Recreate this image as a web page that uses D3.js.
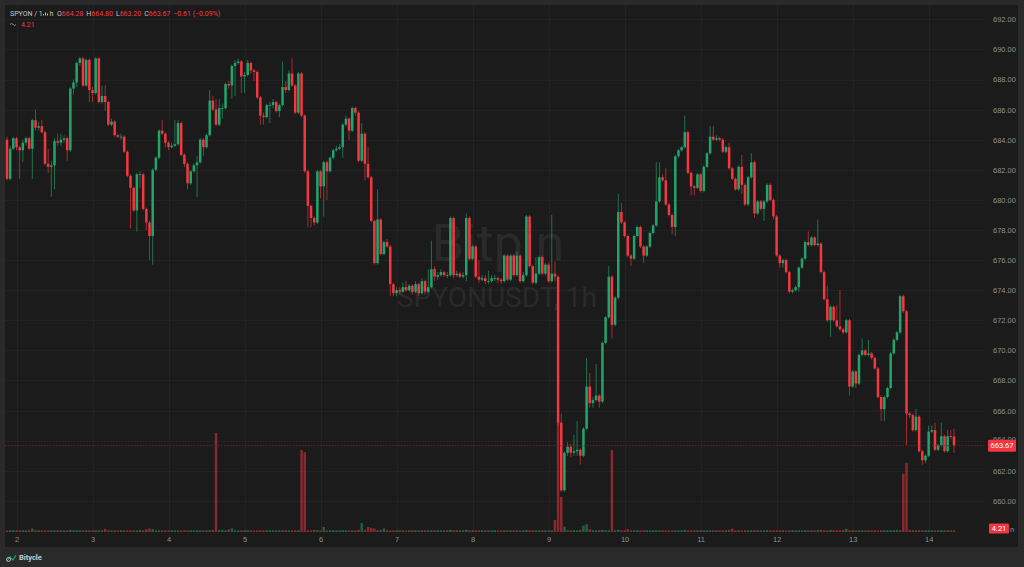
<!DOCTYPE html>
<html lang="en">
<head>
<meta charset="UTF-8">
<title>SPYONUSDT 1h</title>
<script src="https://cdn.jsdelivr.net/npm/d3@7"></script>
<style>
  body { margin: 0; background: #2a2a2a; }
  svg { display: block; font-family: Roboto, "Open Sans", sans-serif; }
  .axis text { fill: #8e8e8e; font-size: 7.5px; }
</style>
</head>
<body>
<svg id="chart" width="1024" height="567"></svg>
<script>
// hourly candles, day 1 21:00 -> day 14 09:00
const opens = [
  684.0, 681.4, 683.4, 684.1, 683.5, 683.3, 683.8, 684.1, 683.4, 685.3, 684.8, 684.9,
  684.5, 682.4, 682.2, 682.3, 683.9, 683.8, 684.0, 684.1, 683.3, 687.4, 687.8, 689.1,
  689.4, 687.6, 689.3, 687.3, 687.1, 689.4, 686.5, 686.9, 686.5, 685.0, 685.2, 684.3,
  684.2, 684.2, 683.2, 681.6, 680.8, 679.3, 681.7, 681.7, 679.4, 678.5, 677.6, 682.0,
  682.8, 684.6, 684.4, 683.8, 683.5, 683.6, 683.7, 685.1, 683.0, 682.4, 681.1, 681.9,
  682.3, 682.5, 684.0, 683.5, 684.3, 686.6, 686.0, 685.0, 686.1, 686.1, 687.7, 687.6,
  688.9, 689.1, 689.2, 688.2, 688.3, 689.1, 688.6, 688.5, 686.8, 685.6, 685.5, 686.3,
  686.3, 686.5, 685.9, 686.3, 687.5, 687.3, 688.4, 687.6, 685.8, 688.4, 685.6, 681.9,
  679.6, 678.8, 678.5, 681.9, 680.9, 682.5, 681.9, 682.8, 683.3, 683.4, 683.5, 685.0,
  685.4, 684.6, 686.1, 685.8, 682.6, 684.4, 682.4, 681.5, 678.6, 675.8, 678.7, 676.4,
  677.2, 676.9, 674.4, 673.8, 674.0, 673.9, 674.2, 674.0, 674.3, 673.9, 674.4, 673.8,
  674.6, 673.9, 674.2, 675.4, 674.9, 675.0, 675.2, 675.0, 675.0, 678.8, 675.0, 675.1,
  674.9, 675.0, 678.8, 676.1, 676.9, 674.9, 674.7, 674.8, 674.6, 674.6, 674.8, 674.8,
  674.7, 674.6, 676.3, 674.7, 676.3, 675.0, 676.3, 674.6, 675.0, 678.9, 675.6, 674.5,
  675.1, 676.2, 675.1, 675.7, 674.6, 675.1, 674.9, 665.2, 660.7, 663.2, 663.6, 663.2,
  663.3, 663.4, 663.0, 664.8, 667.6, 666.5, 666.7, 667.0, 666.6, 670.5, 672.2, 674.9,
  671.7, 673.5, 679.2, 678.5, 677.6, 676.3, 676.1, 677.6, 678.2, 676.9, 676.3, 676.9,
  677.8, 678.3, 679.9, 681.5, 681.3, 679.7, 679.0, 678.2, 682.9, 683.3, 683.5, 684.5,
  681.8, 680.9, 680.8, 681.7, 680.6, 682.2, 683.1, 684.2, 684.0, 684.1, 684.0, 683.2,
  683.5, 682.1, 681.4, 680.7, 682.2, 681.0, 679.7, 681.5, 682.5, 679.1, 679.9, 679.4,
  679.9, 681.0, 680.0, 678.9, 676.3, 675.8, 676.0, 675.2, 673.9, 674.0, 674.2, 675.5,
  676.1, 677.2, 677.0, 677.5, 677.0, 677.1, 675.2, 673.4, 672.0, 672.9, 672.0, 671.6,
  671.4, 671.2, 672.0, 667.6, 668.6, 667.8, 669.7, 670.0, 669.7, 669.8, 669.5, 668.8,
  666.9, 666.1, 666.9, 667.5, 669.8, 670.7, 671.2, 673.6, 672.6, 665.8, 665.7, 664.7,
  665.6, 663.3, 662.7, 663.0, 664.6, 664.7, 663.4, 663.7, 664.3, 663.3, 664.3, 664.28
];
const closes = [
  681.4, 683.4, 684.1, 683.5, 683.3, 683.8, 684.1, 683.4, 685.3, 684.8, 684.9, 684.5,
  682.4, 682.2, 682.3, 683.9, 683.8, 684.0, 684.1, 683.3, 687.4, 687.8, 689.1, 689.4,
  687.6, 689.3, 687.3, 687.1, 689.4, 686.5, 686.9, 686.5, 685.0, 685.2, 684.3, 684.2,
  684.2, 683.2, 681.6, 680.8, 679.3, 681.7, 681.7, 679.4, 678.5, 677.6, 682.0, 682.8,
  684.6, 684.4, 683.8, 683.5, 683.6, 683.7, 685.1, 683.0, 682.4, 681.1, 681.9, 682.3,
  682.5, 684.0, 683.5, 684.3, 686.6, 686.0, 685.0, 686.1, 686.1, 687.7, 687.6, 688.9,
  689.1, 689.2, 688.2, 688.3, 689.1, 688.6, 688.5, 686.8, 685.6, 685.5, 686.3, 686.3,
  686.5, 685.9, 686.3, 687.5, 687.3, 688.4, 687.6, 685.8, 688.4, 685.6, 681.9, 679.6,
  678.8, 678.5, 681.9, 680.9, 682.5, 681.9, 682.8, 683.3, 683.4, 683.5, 685.0, 685.4,
  684.6, 686.1, 685.8, 682.6, 684.4, 682.4, 681.5, 678.6, 675.8, 678.7, 676.4, 677.2,
  676.9, 674.4, 673.8, 674.0, 673.9, 674.2, 674.0, 674.3, 673.9, 674.4, 673.8, 674.6,
  673.9, 674.2, 675.4, 674.9, 675.0, 675.2, 675.0, 675.0, 678.8, 675.0, 675.1, 674.9,
  675.0, 678.8, 676.1, 676.9, 674.9, 674.7, 674.8, 674.6, 674.6, 674.8, 674.8, 674.7,
  674.6, 676.3, 674.7, 676.3, 675.0, 676.3, 674.6, 675.0, 678.9, 675.6, 674.5, 675.1,
  676.2, 675.1, 675.7, 674.6, 675.1, 674.9, 665.2, 660.7, 663.2, 663.6, 663.2, 663.3,
  663.4, 663.0, 664.8, 667.6, 666.5, 666.7, 667.0, 666.6, 670.5, 672.2, 674.9, 671.7,
  673.5, 679.2, 678.5, 677.6, 676.3, 676.1, 677.6, 678.2, 676.9, 676.3, 676.9, 677.8,
  678.3, 679.9, 681.5, 681.3, 679.7, 679.0, 678.2, 682.9, 683.3, 683.5, 684.5, 681.8,
  680.9, 680.8, 681.7, 680.6, 682.2, 683.1, 684.2, 684.0, 684.1, 684.0, 683.2, 683.5,
  682.1, 681.4, 680.7, 682.2, 681.0, 679.7, 681.5, 682.5, 679.1, 679.9, 679.4, 679.9,
  681.0, 680.0, 678.9, 676.3, 675.8, 676.0, 675.2, 673.9, 674.0, 674.2, 675.5, 676.1,
  677.2, 677.0, 677.5, 677.0, 677.1, 675.2, 673.4, 672.0, 672.9, 672.0, 671.6, 671.4,
  671.2, 672.0, 667.6, 668.6, 667.8, 669.7, 670.0, 669.7, 669.8, 669.5, 668.8, 666.9,
  666.1, 666.9, 667.5, 669.8, 670.7, 671.2, 673.6, 672.6, 665.8, 665.7, 664.7, 665.6,
  663.3, 662.7, 663.0, 664.6, 664.7, 663.4, 663.7, 664.3, 663.3, 664.3, 664.28, 663.67
];
const highs = [
  684.2, 683.6, 684.2, 684.2, 683.6, 684.0, 684.2, 684.2, 685.4, 686.0, 685.2, 685.3,
  684.6, 683.4, 682.6, 684.1, 684.4, 684.4, 684.3, 684.2, 687.5, 688.0, 689.2, 689.5,
  689.5, 689.4, 689.4, 687.5, 689.5, 689.5, 687.6, 687.6, 686.6, 685.4, 685.3, 684.4,
  684.4, 684.3, 683.3, 681.7, 680.9, 681.8, 681.9, 681.8, 679.5, 678.6, 682.1, 682.9,
  684.7, 685.3, 684.5, 683.9, 683.8, 685.3, 685.3, 685.2, 683.1, 682.5, 682.0, 682.4,
  682.9, 684.1, 684.1, 684.4, 687.3, 686.9, 686.7, 686.7, 686.4, 687.8, 687.9, 689.0,
  689.3, 689.4, 689.3, 688.5, 689.3, 689.2, 688.7, 688.6, 686.9, 685.8, 686.4, 686.5,
  686.7, 686.6, 686.4, 689.2, 687.9, 688.6, 689.4, 687.7, 688.5, 688.5, 685.7, 682.0,
  679.7, 678.9, 682.0, 682.0, 682.6, 682.6, 682.9, 683.4, 683.6, 683.7, 685.1, 685.6,
  685.5, 686.2, 686.2, 685.9, 685.1, 684.5, 683.5, 681.6, 678.7, 680.7, 678.8, 677.3,
  677.4, 677.0, 674.5, 674.2, 674.2, 674.5, 674.6, 674.4, 674.4, 674.6, 674.5, 674.8,
  674.7, 675.4, 677.3, 675.6, 675.2, 675.4, 675.3, 675.2, 678.9, 678.9, 675.3, 675.2,
  675.2, 679.1, 678.9, 677.0, 677.0, 676.0, 675.0, 675.0, 675.3, 675.0, 675.0, 674.9,
  674.8, 676.4, 676.4, 676.4, 676.4, 676.6, 676.4, 675.2, 679.0, 679.0, 675.7, 676.2,
  676.3, 676.3, 675.8, 675.8, 679.0, 675.9, 675.0, 665.8, 663.3, 663.9, 663.8, 664.4,
  665.3, 663.5, 664.9, 669.5, 668.5, 666.9, 669.1, 667.1, 670.6, 672.3, 675.6, 675.0,
  673.6, 680.4, 679.8, 678.6, 677.7, 676.4, 677.7, 678.3, 678.3, 677.0, 677.0, 677.9,
  678.4, 682.5, 682.5, 681.7, 682.1, 679.8, 679.1, 683.0, 683.4, 683.6, 685.6, 684.6,
  681.9, 681.0, 681.8, 681.8, 682.3, 683.2, 684.9, 684.9, 684.3, 684.2, 684.1, 683.6,
  683.8, 682.2, 681.5, 682.3, 683.0, 681.1, 681.6, 683.1, 682.6, 680.0, 680.0, 680.0,
  681.1, 681.1, 680.1, 679.0, 676.4, 676.1, 676.1, 675.3, 674.1, 674.3, 675.6, 676.2,
  677.3, 677.9, 677.6, 677.6, 678.7, 677.2, 675.3, 674.3, 673.0, 673.0, 673.0, 674.0,
  671.5, 672.1, 672.1, 668.7, 668.7, 669.8, 670.8, 670.1, 670.7, 669.9, 669.6, 668.9,
  667.0, 667.0, 667.6, 669.9, 670.8, 671.3, 673.7, 673.7, 672.7, 665.9, 665.8, 666.1,
  665.7, 663.4, 663.1, 665.0, 665.0, 665.2, 663.8, 665.2, 664.4, 664.7, 664.7, 664.80
];
const lows = [
  681.3, 681.3, 683.3, 683.3, 681.4, 682.5, 683.6, 683.3, 681.4, 684.6, 684.6, 684.4,
  682.3, 681.8, 680.2, 680.7, 683.6, 683.6, 683.8, 682.6, 683.2, 687.0, 687.5, 688.9,
  687.5, 687.5, 686.5, 686.5, 687.0, 686.4, 686.4, 685.9, 684.9, 684.9, 684.2, 684.1,
  684.0, 683.1, 681.5, 678.1, 679.2, 677.9, 680.8, 679.3, 678.0, 676.0, 675.7, 681.9,
  682.7, 684.3, 683.5, 683.3, 683.4, 683.5, 683.6, 682.9, 682.2, 680.7, 681.0, 681.8,
  680.2, 682.4, 682.9, 683.4, 684.2, 685.9, 684.9, 684.9, 685.4, 686.0, 687.4, 686.7,
  686.9, 689.0, 687.1, 687.1, 688.2, 688.4, 687.9, 686.7, 685.0, 685.0, 685.4, 685.1,
  686.1, 685.8, 685.5, 686.2, 687.1, 687.2, 687.5, 685.7, 685.7, 685.5, 681.8, 678.2,
  678.2, 678.3, 678.4, 680.1, 678.9, 680.0, 681.8, 682.7, 683.2, 683.3, 682.8, 684.9,
  684.0, 684.5, 685.6, 682.5, 682.5, 681.3, 681.4, 678.5, 675.7, 675.7, 676.3, 676.3,
  676.8, 673.6, 673.6, 673.6, 673.7, 673.8, 673.9, 673.9, 673.7, 673.8, 673.6, 673.7,
  673.7, 673.8, 674.1, 674.6, 674.7, 674.9, 674.9, 674.8, 674.9, 674.8, 674.9, 674.8,
  674.8, 674.6, 676.0, 676.0, 674.8, 674.5, 674.6, 674.4, 674.4, 674.5, 674.6, 674.5,
  674.4, 674.5, 674.6, 674.6, 674.9, 674.9, 674.5, 674.5, 674.9, 675.5, 674.4, 674.4,
  675.0, 675.0, 675.0, 674.5, 674.5, 674.6, 665.0, 660.6, 660.6, 663.0, 662.9, 663.0,
  663.0, 662.4, 662.9, 664.7, 666.2, 666.2, 666.6, 666.2, 666.5, 670.4, 672.1, 670.8,
  671.6, 673.4, 678.4, 677.5, 676.2, 675.6, 676.0, 677.5, 676.8, 675.8, 676.2, 676.8,
  677.7, 678.2, 679.8, 681.2, 679.6, 678.9, 677.7, 677.6, 682.8, 683.2, 683.4, 681.7,
  680.3, 680.3, 680.7, 680.5, 680.5, 682.1, 683.0, 683.9, 683.9, 683.9, 683.1, 683.1,
  682.0, 681.3, 680.6, 680.6, 680.4, 679.6, 679.6, 681.4, 678.8, 679.0, 679.3, 678.6,
  679.8, 679.9, 678.7, 676.2, 675.5, 675.5, 675.1, 673.8, 673.8, 673.9, 673.9, 675.4,
  676.0, 676.9, 676.9, 676.9, 676.9, 675.1, 673.3, 671.9, 670.9, 671.9, 671.5, 671.3,
  671.1, 671.1, 667.0, 667.5, 667.5, 667.7, 669.6, 669.6, 669.6, 669.4, 668.7, 666.8,
  665.3, 665.3, 666.8, 667.4, 669.7, 670.6, 671.1, 672.5, 663.7, 665.5, 664.6, 664.6,
  663.2, 662.4, 662.5, 662.9, 664.5, 663.3, 663.3, 663.6, 663.2, 663.2, 664.1, 663.20
];
const volumes = [
  4, 5, 3, 4, 5, 4, 3, 4, 10, 5, 4, 3,
  5, 4, 3, 4, 5, 4, 3, 4, 6, 5, 4, 3,
  4, 5, 4, 3, 4, 5, 4, 9, 5, 4, 3, 4,
  5, 4, 3, 4, 5, 4, 6, 5, 8, 10, 8, 4,
  5, 4, 3, 4, 5, 4, 3, 4, 5, 4, 3, 4,
  5, 4, 3, 4, 5, 6, 279, 5, 6, 4, 8, 10,
  5, 4, 3, 4, 5, 4, 3, 4, 5, 4, 3, 4,
  5, 4, 3, 4, 5, 4, 3, 4, 5, 231, 225, 5,
  4, 6, 5, 4, 14, 4, 5, 4, 3, 4, 5, 4,
  3, 4, 5, 6, 25, 6, 14, 12, 10, 5, 6, 10,
  5, 4, 3, 4, 5, 4, 3, 4, 5, 4, 3, 4,
  5, 4, 3, 4, 5, 4, 3, 4, 6, 5, 4, 3,
  4, 6, 5, 4, 3, 4, 5, 4, 3, 4, 5, 4,
  3, 4, 5, 4, 3, 4, 5, 4, 6, 5, 4, 3,
  4, 5, 4, 3, 4, 34, 308, 99, 15, 5, 4, 5,
  4, 6, 18, 22, 8, 5, 4, 5, 6, 5, 4, 231,
  5, 6, 5, 4, 8, 5, 4, 3, 4, 5, 4, 3,
  4, 5, 4, 3, 4, 5, 4, 3, 4, 5, 6, 5,
  4, 3, 4, 5, 4, 3, 4, 5, 4, 3, 4, 5,
  6, 10, 4, 3, 4, 5, 4, 3, 5, 4, 3, 4,
  5, 4, 3, 4, 5, 4, 3, 4, 5, 4, 3, 4,
  5, 4, 3, 4, 5, 6, 5, 4, 6, 5, 4, 5,
  6, 9, 5, 4, 3, 4, 5, 4, 3, 4, 5, 4,
  3, 4, 5, 4, 5, 6, 5, 164, 195, 6, 5, 4,
  5, 4, 3, 4, 5, 4, 3, 4, 5, 4, 3, 4.21
];
const dayLabels = ["2", "3", "4", "5", "6", "7", "8", "9", "10", "11", "12", "13", "14"];
const dayStartIndex = [3, 27, 51, 75, 99, 123, 147, 171, 195, 219, 243, 267, 291];
const priceTicks = [660, 662, 664, 666, 668, 670, 672, 674, 676, 678, 680, 682, 684, 686, 688, 690, 692];

const UP = "#22a56d", DOWN = "#f5373f";
const svg = d3.select("#chart");

const plot = { left: 5, right: 985, top: 5, bottom: 532 };

const x = d3.scaleLinear().domain([0, closes.length - 1]).range([7, 954]);
const y = d3.scaleLinear().domain([660, 692]).range([500.9, 19.3]);
const yv = d3.scaleLinear().domain([0, 310]).range([532, 422]);

// frame
svg.append("rect").attr("width", 1024).attr("height", 567).attr("fill", "#2a2a2a");
svg.append("rect").attr("x", 5).attr("y", 5).attr("width", 1013).attr("height", 542).attr("fill", "#1b1b1b");

svg.append("clipPath").attr("id", "clip")
  .append("rect").attr("x", plot.left).attr("y", plot.top)
  .attr("width", plot.right - plot.left).attr("height", plot.bottom - plot.top);

// grid
const grid = svg.append("g").attr("clip-path", "url(#clip)");
grid.selectAll(".hg").data(priceTicks).enter().append("line")
  .attr("x1", plot.left).attr("x2", plot.right)
  .attr("y1", d => Math.round(y(d)) + 0.5).attr("y2", d => Math.round(y(d)) + 0.5)
  .attr("stroke", "#222222");
grid.selectAll(".vg").data(dayStartIndex).enter().append("line")
  .attr("x1", d => Math.round(x(d)) + 0.5).attr("x2", d => Math.round(x(d)) + 0.5)
  .attr("y1", plot.top).attr("y2", plot.bottom)
  .attr("stroke", "#222222");

// watermark
svg.append("text").attr("x", 498).attr("y", 261).attr("text-anchor", "middle")
  .attr("font-size", 52).attr("fill", "#2a2a2a").text("Bitpin");
svg.append("text").attr("x", 497).attr("y", 307).attr("text-anchor", "middle")
  .attr("font-size", 28).attr("fill", "#2a2a2a").text("SPYONUSDT, 1h");

const data = closes.map((c, i) => ({ i, o: opens[i], h: highs[i], l: lows[i], c, v: volumes[i] }));
const bw = 2.5;

// volume
const vol = svg.append("g").attr("clip-path", "url(#clip)");
vol.selectAll("rect").data(data).enter().append("rect")
  .attr("x", d => x(d.i) - bw / 2)
  .attr("width", bw)
  .attr("y", d => Math.min(yv(d.v), 530.3))
  .attr("height", d => 532 - Math.min(yv(d.v), 530.3))
  .attr("fill", d => d.c >= d.o ? UP : DOWN)
  .attr("opacity", 0.5);

// candles
const candles = svg.append("g").attr("clip-path", "url(#clip)");
const cg = candles.selectAll("g").data(data).enter().append("g");
cg.append("line")
  .attr("x1", d => x(d.i)).attr("x2", d => x(d.i))
  .attr("y1", d => y(d.h)).attr("y2", d => y(d.l))
  .attr("stroke", d => d.c >= d.o ? UP : DOWN)
  .attr("stroke-width", 0.9)
  .attr("opacity", 0.7);
cg.append("rect")
  .attr("x", d => x(d.i) - bw / 2)
  .attr("width", bw)
  .attr("y", d => y(Math.max(d.o, d.c)))
  .attr("height", d => Math.max(0.8, Math.abs(y(d.o) - y(d.c))))
  .attr("fill", d => d.c >= d.o ? UP : DOWN);

// last price line
const last = data[data.length - 1];
const prev = data[data.length - 2];
svg.append("line")
  .attr("x1", plot.left).attr("x2", plot.right)
  .attr("y1", y(last.c)).attr("y2", y(last.c))
  .attr("stroke", "#7d2a2c").attr("stroke-width", 0.8)
  .attr("stroke-dasharray", "1.5,1.5");

// price axis
const yAxis = svg.append("g").attr("class", "axis")
  .attr("transform", "translate(988,0)")
  .call(d3.axisRight(y).tickValues(priceTicks).tickFormat(d3.format(".2f")).tickSize(0).tickPadding(5));
yAxis.select(".domain").remove();
// the last-price tag sits over this tick label, as in the original
yAxis.selectAll(".tick").filter(d => Math.abs(y(d) - y(last.c)) < 10).select("text")
  .attr("dy", "0.05em");

// time axis
const xAxis = svg.append("g").attr("class", "axis")
  .attr("transform", "translate(0,533)")
  .call(d3.axisBottom(x).tickValues(dayStartIndex).tickFormat((d, k) => dayLabels[k]).tickSize(0).tickPadding(4));
xAxis.select(".domain").remove();

// price / volume tags
const fmt2 = d3.format(".2f");
svg.append("rect").attr("x", 988).attr("y", y(last.c) - 6).attr("width", 28).attr("height", 12)
  .attr("rx", 1).attr("fill", "#f23645");
svg.append("text").attr("x", 1002).attr("y", y(last.c) + 2.6).attr("text-anchor", "middle")
  .attr("font-size", 7.5).attr("fill", "#ffffff").text(fmt2(last.c));
svg.append("rect").attr("x", 989).attr("y", 523.5).attr("width", 20).attr("height", 10)
  .attr("rx", 1).attr("fill", "#f23645");
svg.append("text").attr("x", 999).attr("y", 531.2).attr("text-anchor", "middle")
  .attr("font-size", 7.5).attr("fill", "#ffffff").text(last.v);
svg.append("text").attr("x", 1010).attr("y", 532).attr("font-size", 7.5).attr("fill", "#8e8e8e").text("n");

// legend
const chg = last.c - prev.c;
const pct = chg / prev.c * 100;
const lg = svg.append("g").attr("font-size", 7);
lg.append("text").attr("x", 10).attr("y", 16).attr("fill", "#c4c4c4").text("SPYON / 1");
lg.selectAll(".ib").data([1.5, 3, 2]).enter().append("rect")
  .attr("x", (d, k) => 43 + k * 2).attr("y", d => 15.5 - d).attr("width", 1).attr("height", d => d)
  .attr("fill", "#bbbbbb");
lg.append("text").attr("x", 49.5).attr("y", 16).attr("fill", "#c4c4c4").text("h");
const line1 = lg.append("text").attr("x", 57).attr("y", 16);
[["O", last.o], ["H", last.h], ["L", last.l], ["C", last.c]].forEach(([k, v], n) => {
  line1.append("tspan").attr("dx", n ? 3 : 0).attr("fill", "#c4c4c4").text(k);
  line1.append("tspan").attr("fill", "#f23645").text(fmt2(v));
});
line1.append("tspan").attr("dx", 3).attr("fill", "#f23645")
  .text(`${fmt2(chg)} (${fmt2(pct)}%)`);
lg.append("path").attr("d", "M10,24.5 q1.5,-2 3,0 t3,0").attr("fill", "none").attr("stroke", "#9a9a9a").attr("stroke-width", 0.8);
lg.append("text").attr("x", 21).attr("y", 27).attr("fill", "#f23645").text(last.v);

// footer
const ft = svg.append("g");
ft.append("path").attr("d", "M7,561 l3,-4 l3,3 l3,-5").attr("fill", "none")
  .attr("stroke", "#21a36e").attr("stroke-width", 1.2);
ft.append("circle").attr("cx", 8.5).attr("cy", 559.5).attr("r", 2).attr("fill", "none")
  .attr("stroke", "#cfcfcf").attr("stroke-width", 0.8);
ft.append("text").attr("x", 19).attr("y", 560).attr("font-size", 7.5).attr("font-weight", 600)
  .attr("fill", "#d6d6d6").text("Bitycle");
</script>
</body>
</html>
